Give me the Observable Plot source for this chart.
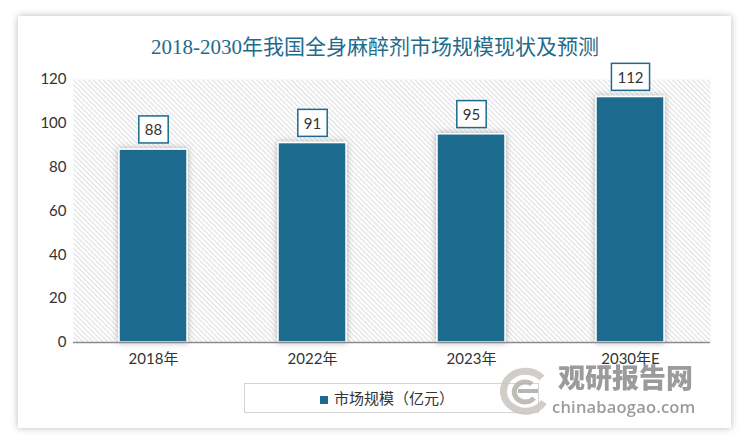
<!DOCTYPE html>
<html><head><meta charset="utf-8">
<script src="https://cdn.jsdelivr.net/npm/d3@7"></script>
<script src="https://cdn.jsdelivr.net/npm/@observablehq/plot@0.6"></script>
<style>
html,body{margin:0;padding:0;background:#fff;width:750px;height:445px;overflow:hidden;}
#card{position:absolute;left:18px;top:16px;width:713px;height:412px;background:#fff;box-shadow:0 0 7px rgba(0,0,0,0.28);}
#title{position:absolute;left:0;top:30px;width:750px;text-align:center;font-family:"Liberation Serif","Noto Sans CJK SC",serif;font-size:21px;color:#1f6b8c;white-space:nowrap;}
#chart{position:absolute;left:0;top:0;}
#legend{position:absolute;left:244px;top:383px;width:295px;height:30px;border:1px solid #d4d4d4;box-sizing:border-box;font-family:"Noto Sans CJK SC",sans-serif;font-size:15px;color:#333;white-space:nowrap;}
#legend .sw{position:absolute;left:75px;top:12px;width:8px;height:8px;background:#1d6a8e;}
#legend .lb{position:absolute;left:89px;top:4px;line-height:20px;}
#wm{position:absolute;left:498px;top:360px;width:210px;height:60px;opacity:0.85;white-space:nowrap;}
#wm .cn{position:absolute;left:60px;top:0px;font-family:"Noto Sans CJK SC",sans-serif;font-weight:900;font-size:27px;color:#8a8a8a;letter-spacing:0px;line-height:34px;}
#wm .en{position:absolute;left:54px;top:37px;font-family:"Open Sans",sans-serif;font-weight:600;font-size:16.5px;color:#8a8a8a;line-height:20px;letter-spacing:0.2px;}
#wm svg{position:absolute;left:0;top:6px;}
</style></head>
<body>
<div id="card"></div>
<div id="chart"></div>
<div id="title">2018-2030年我国全身麻醉剂市场规模现状及预测</div>
<div id="legend"><div class="sw"></div><div class="lb">市场规模（亿元）</div></div>
<div id="wm">
<svg width="56" height="50" viewBox="0 0 56 50">
<path d="M44 12 A22 20 0 1 0 46 36" fill="none" stroke="#c9c6c0" stroke-width="7"/>
<path d="M34 18 A11 10 0 1 0 36 32" fill="none" stroke="#b5b2ac" stroke-width="5"/>
<path d="M20 25 L40 25" stroke="#a9a9a9" stroke-width="4"/>
</svg>
<div class="cn">观研报告网</div>
<div class="en">chinabaogao.com</div>
</div>
<script>
const categories = ["2018年", "2022年", "2023年", "2030年E"];
const values = [88, 91, 95, 112];
const yTicks = [0, 20, 40, 60, 80, 100, 120];
const seriesName = "市场规模（亿元）";

const data = categories.map((c, i) => ({category: c, value: values[i]}));
const barColor = "#1d6a8e";
const font = "Lato, 'Noto Sans CJK SC', sans-serif";

const chart = Plot.plot({
  width: 750,
  height: 380,
  marginLeft: 73,
  marginRight: 40,
  marginTop: 79,
  marginBottom: 38,
  style: {fontFamily: font, fontSize: "15px", color: "#333", background: "transparent", overflow: "visible"},
  x: {domain: categories, paddingInner: 0.573, paddingOuter: 0.2865, label: null, tickSize: 0, tickPadding: 11},
  y: {domain: [0, 120], ticks: yTicks, label: null, tickSize: 0, tickPadding: 7},
  marks: [
    Plot.frame({fill: "url(#hatch)", stroke: "none"}),
    Plot.barY(data, {x: "category", y: "value", fill: barColor, stroke: "#fff", strokeWidth: 1.5}),
    Plot.ruleY([0], {stroke: "#8c8c8c", strokeWidth: 1.5}),
    Plot.text(data, {x: "category", y: "value", text: d => String(d.value), dy: -19, fill: "#333", fontSize: 15, className: "vlabel"})
  ]
});
document.getElementById("chart").appendChild(chart);

const ns = "http://www.w3.org/2000/svg";
const defs = document.createElementNS(ns, "defs");
defs.innerHTML = `
<pattern id="hatch" width="3.5" height="3.5" patternUnits="userSpaceOnUse" patternTransform="rotate(45)">
  <rect width="3.5" height="3.5" fill="#ffffff"/>
  <line x1="0" y1="1" x2="3.5" y2="1" stroke="#dedede" stroke-width="1.1"/>
</pattern>
<filter id="shadow" x="-20%" y="-20%" width="140%" height="140%">
  <feDropShadow dx="0" dy="0" stdDeviation="3" flood-color="#000" flood-opacity="0.3"/>
</filter>`;
chart.insertBefore(defs, chart.firstChild);

chart.querySelectorAll("g[aria-label='bar'] rect").forEach(r => r.setAttribute("filter", "url(#shadow)"));

const lg = chart.querySelector("g.vlabel") || chart.querySelector("g[aria-label='text']");
lg.querySelectorAll("text").forEach(t => {
  const b = t.getBBox();
  const rect = document.createElementNS(ns, "rect");
  const padX = 6, h = 27;
  const cy = b.y + b.height / 2;
  rect.setAttribute("x", b.x - padX);
  rect.setAttribute("y", cy - h / 2);
  rect.setAttribute("width", b.width + 2 * padX);
  rect.setAttribute("height", h);
  rect.setAttribute("fill", "#fff");
  rect.setAttribute("stroke", barColor);
  rect.setAttribute("stroke-width", 1.5);
  const tr = t.getAttribute("transform");
  if (tr) rect.setAttribute("transform", tr);
  lg.insertBefore(rect, t);
});
</script>
</body></html>
